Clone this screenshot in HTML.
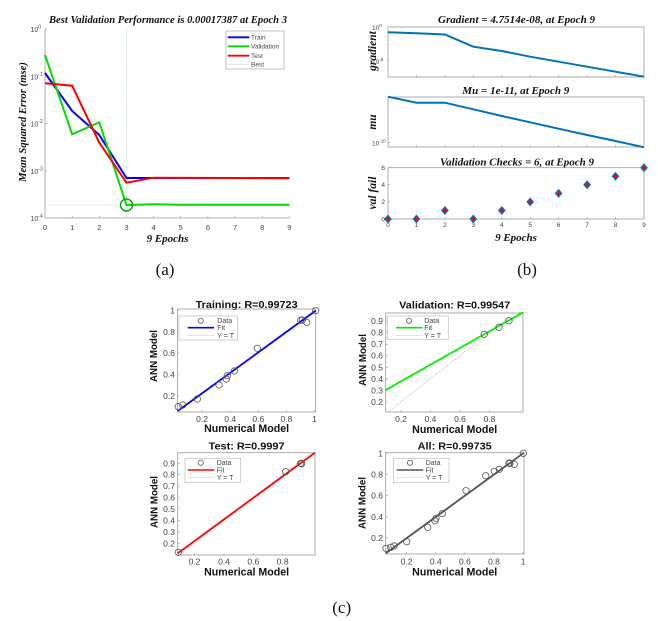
<!DOCTYPE html>
<html><head><meta charset="utf-8"><style>
html,body{margin:0;padding:0;background:#fff;}
svg{display:block;}
.s{font-family:"Liberation Sans",sans-serif;}
.t{font-family:"Liberation Serif",serif;font-weight:bold;font-style:italic;fill:#111;}
.tk{font-family:"Liberation Sans",sans-serif;fill:#444;}
.ct{font-family:"Liberation Sans",sans-serif;font-weight:bold;fill:#111;}
</style></head><body>
<svg width="658" height="621" viewBox="0 0 658 621" xmlns="http://www.w3.org/2000/svg">
<rect width="658" height="621" fill="#fff"/>

<!-- ============ PANEL A ============ -->
<text class="t" x="49" y="23" font-size="11" textLength="238" lengthAdjust="spacingAndGlyphs">Best Validation Performance is 0.00017387 at Epoch 3</text>
<text class="t" transform="translate(26,122) rotate(-90)" font-size="11" text-anchor="middle" textLength="120" lengthAdjust="spacingAndGlyphs">Mean Squared Error  (mse)</text>
<g stroke="#999" stroke-width="0.8">
<line x1="45" y1="29" x2="45" y2="218"/>
<line x1="45" y1="218" x2="289.4" y2="218"/>
</g>
<g stroke="#999" stroke-width="0.6">
<line x1="72.15" y1="218" x2="72.15" y2="216"/><line x1="99.3" y1="218" x2="99.3" y2="216"/><line x1="126.45" y1="218" x2="126.45" y2="216"/><line x1="153.6" y1="218" x2="153.6" y2="216"/><line x1="180.75" y1="218" x2="180.75" y2="216"/><line x1="207.9" y1="218" x2="207.9" y2="216"/><line x1="235.05" y1="218" x2="235.05" y2="216"/><line x1="262.2" y1="218" x2="262.2" y2="216"/><line x1="289.35" y1="218" x2="289.35" y2="216"/>
<line x1="45" y1="29" x2="47" y2="29"/><line x1="45" y1="76.25" x2="47" y2="76.25"/><line x1="45" y1="123.5" x2="47" y2="123.5"/><line x1="45" y1="170.75" x2="47" y2="170.75"/>
</g>
<g class="tk" font-size="7">
<text x="30.5" y="32">10<tspan font-size="5" dy="-3.5">0</tspan></text>
<text x="30.5" y="79.5">10<tspan font-size="5" dy="-3.5">-1</tspan></text>
<text x="30.5" y="126.5">10<tspan font-size="5" dy="-3.5">-2</tspan></text>
<text x="30.5" y="174">10<tspan font-size="5" dy="-3.5">-3</tspan></text>
<text x="30.5" y="221">10<tspan font-size="5" dy="-3.5">-4</tspan></text>
</g>
<g class="tk" font-size="7.5" text-anchor="middle">
<text x="45" y="230">0</text><text x="72.15" y="230">1</text><text x="99.3" y="230">2</text><text x="126.45" y="230">3</text><text x="153.6" y="230">4</text><text x="180.75" y="230">5</text><text x="207.9" y="230">6</text><text x="235.05" y="230">7</text><text x="262.2" y="230">8</text><text x="289.35" y="230">9</text>
</g>
<text class="t" x="167.5" y="242" font-size="11" text-anchor="middle">9 Epochs</text>
<!-- best lines -->
<line x1="126.45" y1="29" x2="126.45" y2="218" stroke="#bfe0bf" stroke-width="0.8" stroke-dasharray="1.5,1"/>
<line x1="45" y1="205" x2="126.45" y2="205" stroke="#bfe0bf" stroke-width="0.8" stroke-dasharray="1.5,1"/>
<polyline fill="none" stroke="#0000ff" stroke-width="2" points="45,73 72.15,111 99.3,135 126.45,178 153.6,178 289.35,178"/>
<polyline fill="none" stroke="#00dd00" stroke-width="2" points="45,55 72.15,134.3 99.3,122.3 126.45,205 153.6,204.3 180.75,204.7 289.35,204.7"/>
<polyline fill="none" stroke="#ff0000" stroke-width="2" points="45,83.3 72.15,85.7 99.3,142.7 126.45,182.7 153.6,177.7 289.35,178.3"/>
<circle cx="126.5" cy="205" r="6" fill="none" stroke="#00a000" stroke-width="1.4"/>
<!-- legend a -->
<rect x="226" y="31" width="58" height="38" fill="#fff" stroke="#aaa" stroke-width="0.7"/>
<line x1="227.7" y1="37.3" x2="249.3" y2="37.3" stroke="#0000ff" stroke-width="1.8"/>
<line x1="227.7" y1="46.3" x2="249.3" y2="46.3" stroke="#00dd00" stroke-width="1.8"/>
<line x1="227.7" y1="55.7" x2="249.3" y2="55.7" stroke="#ff0000" stroke-width="1.8"/>
<line x1="227.7" y1="64.3" x2="249.3" y2="64.3" stroke="#cfe6cf" stroke-width="0.8"/>
<g class="tk" font-size="6.5">
<text x="251" y="39.6">Train</text><text x="251" y="48.6">Validation</text><text x="251" y="58">Test</text><text x="251" y="66.6">Best</text>
</g>
<text x="165" y="275" font-family="Liberation Serif,serif" font-size="17" text-anchor="middle" fill="#111">(a)</text>

<!-- ============ PANEL B ============ -->
<text class="t" x="438" y="23" font-size="11" textLength="157" lengthAdjust="spacingAndGlyphs">Gradient = 4.7514e-08, at Epoch 9</text>
<text class="t" x="462.3" y="94" font-size="11" textLength="107" lengthAdjust="spacingAndGlyphs">Mu = 1e-11, at Epoch 9</text>
<text class="t" x="440" y="165.5" font-size="11" textLength="154" lengthAdjust="spacingAndGlyphs">Validation Checks = 6, at Epoch 9</text>
<text class="t" transform="translate(376,51) rotate(-90)" font-size="11.5" text-anchor="middle">gradient</text>
<text class="t" transform="translate(376,122) rotate(-90)" font-size="11.5" text-anchor="middle">mu</text>
<text class="t" transform="translate(376,193) rotate(-90)" font-size="11.5" text-anchor="middle">val fail</text>
<g fill="none" stroke="#999" stroke-width="0.8">
<rect x="388" y="27" width="256" height="50"/>
<rect x="388" y="97" width="256" height="50"/>
<rect x="388" y="167.7" width="256" height="51.3"/>
</g>
<g stroke="#999" stroke-width="0.6">
<path d="M416.4,77v-2M444.9,77v-2M473.3,77v-2M501.8,77v-2M530.2,77v-2M558.6,77v-2M587.1,77v-2M615.5,77v-2"/>
<path d="M416.4,147v-2M444.9,147v-2M473.3,147v-2M501.8,147v-2M530.2,147v-2M558.6,147v-2M587.1,147v-2M615.5,147v-2"/>
<path d="M416.4,219v-2M444.9,219v-2M473.3,219v-2M501.8,219v-2M530.2,219v-2M558.6,219v-2M587.1,219v-2M615.5,219v-2"/>
<path d="M388,61h2M388,142.7h2M388,201.9h2M388,184.8h2"/>
</g>
<g class="tk" font-size="6.5">
<text x="372" y="30">10<tspan font-size="4.5" dy="-3">0</tspan></text>
<text x="372" y="64">10<tspan font-size="4.5" dy="-3">-5</tspan></text>
<text x="372" y="145.5">10<tspan font-size="4.5" dy="-3">-10</tspan></text>
</g>
<g class="tk" font-size="6.5" text-anchor="end">
<text x="385" y="221.3">0</text><text x="385" y="204.2">2</text><text x="385" y="187.1">4</text><text x="385" y="170">6</text>
</g>
<g class="tk" font-size="6.5" text-anchor="middle">
<text x="388" y="227">0</text><text x="416.4" y="227">1</text><text x="444.9" y="227">2</text><text x="473.3" y="227">3</text><text x="501.8" y="227">4</text><text x="530.2" y="227">5</text><text x="558.6" y="227">6</text><text x="587.1" y="227">7</text><text x="615.5" y="227">8</text><text x="644" y="227">9</text>
</g>
<text class="t" x="516" y="241" font-size="11" text-anchor="middle">9 Epochs</text>
<polyline fill="none" stroke="#0072BD" stroke-width="2" points="388,32.3 416.4,33.3 444.9,34.5 473.3,46.7 501.8,51 530.2,56.7 558.6,61.7 587.1,66.7 615.5,71.7 644,76.7"/>
<polyline fill="none" stroke="#0072BD" stroke-width="2" points="388,96.7 416.4,102.7 444.9,102.7 473.3,109.3 501.8,116 530.2,122.3 558.6,128.7 587.1,135 615.5,141 644,147.3"/>
<g fill="#ff0000" stroke="#0072BD" stroke-width="1.3">
<path d="M388,215.5l3,3.5l-3,3.5l-3,-3.5z"/>
<path d="M416.4,215.5l3,3.5l-3,3.5l-3,-3.5z"/>
<path d="M444.9,206.95l3,3.5l-3,3.5l-3,-3.5z"/>
<path d="M473.3,215.5l3,3.5l-3,3.5l-3,-3.5z"/>
<path d="M501.8,206.95l3,3.5l-3,3.5l-3,-3.5z"/>
<path d="M530.2,198.4l3,3.5l-3,3.5l-3,-3.5z"/>
<path d="M558.6,189.85l3,3.5l-3,3.5l-3,-3.5z"/>
<path d="M587.1,181.3l3,3.5l-3,3.5l-3,-3.5z"/>
<path d="M615.5,172.75l3,3.5l-3,3.5l-3,-3.5z"/>
<path d="M644,164.2l3,3.5l-3,3.5l-3,-3.5z"/>
</g>
<text x="527" y="275" font-family="Liberation Serif,serif" font-size="17" text-anchor="middle" fill="#111">(b)</text>

<!-- ============ PANEL C : Training ============ -->
<text class="ct" x="246.6" y="308" font-size="10.5" text-anchor="middle" textLength="102" lengthAdjust="spacingAndGlyphs">Training: R=0.99723</text>
<text class="ct" x="246.6" y="432" font-size="10.6" text-anchor="middle" textLength="85" lengthAdjust="spacingAndGlyphs">Numerical Model</text>
<text class="ct" transform="translate(157,356) rotate(-90)" font-size="10.5" text-anchor="middle" textLength="52" lengthAdjust="spacingAndGlyphs">ANN Model</text>
<rect x="177.5" y="309" width="138.2" height="103" fill="none" stroke="#999" stroke-width="0.8"/>
<g stroke="#999" stroke-width="0.6">
<path d="M177.5,395.8h2M177.5,374.5h2M177.5,353.1h2M177.5,331.8h2M177.5,310.5h2"/>
<path d="M202.1,412v-2M230.2,412v-2M258.3,412v-2M286.4,412v-2M314.5,412v-2"/>
</g>
<g class="tk" font-size="8.5" text-anchor="end">
<text x="175" y="398.8">0.2</text><text x="175" y="377.5">0.4</text><text x="175" y="356.1">0.6</text><text x="175" y="334.8">0.8</text><text x="175" y="313.5">1</text>
</g>
<g class="tk" font-size="8.5" text-anchor="middle">
<text x="202.1" y="422">0.2</text><text x="230.2" y="422">0.4</text><text x="258.3" y="422">0.6</text><text x="286.4" y="422">0.8</text><text x="314.5" y="422">1</text>
</g>
<line x1="177.5" y1="412" x2="315.7" y2="309" stroke="#bbb" stroke-width="0.7" stroke-dasharray="1.5,1"/>
<line x1="177.7" y1="411" x2="315.7" y2="310.7" stroke="#0000ff" stroke-width="1.8"/>
<g fill="none" stroke="#555" stroke-width="0.8">
<circle cx="178.3" cy="406.7" r="3.2"/><circle cx="182.7" cy="405" r="3.2"/><circle cx="197.3" cy="399" r="3.2"/><circle cx="219" cy="385" r="3.2"/><circle cx="226.3" cy="379" r="3.2"/><circle cx="227.3" cy="375.7" r="3.2"/><circle cx="234.3" cy="371" r="3.2"/><circle cx="257.3" cy="348.3" r="3.2"/><circle cx="300.7" cy="320.3" r="3.2"/><circle cx="302.3" cy="320" r="3.2"/><circle cx="306.7" cy="322.3" r="3.2"/><circle cx="315.7" cy="310.7" r="3.2"/>
</g>
<rect x="179" y="316" width="58.7" height="24" fill="#fff" stroke="#bbb" stroke-width="0.7"/>
<circle cx="200.7" cy="320.7" r="2.6" fill="none" stroke="#555" stroke-width="0.8"/>
<line x1="187.7" y1="327.7" x2="214" y2="327.7" stroke="#0000ff" stroke-width="1.6"/>
<line x1="187.7" y1="335.3" x2="214" y2="335.3" stroke="#bbb" stroke-width="0.7" stroke-dasharray="1.5,1"/>
<g class="tk" font-size="7">
<text x="217.3" y="323.2">Data</text><text x="217.3" y="330.2">Fit</text><text x="217.3" y="337.8">Y = T</text>
</g>

<!-- ============ PANEL C : Validation ============ -->
<text class="ct" x="454.7" y="308.5" font-size="10.5" text-anchor="middle" textLength="111" lengthAdjust="spacingAndGlyphs">Validation: R=0.99547</text>
<text class="ct" x="454.7" y="433" font-size="10.6" text-anchor="middle" textLength="85" lengthAdjust="spacingAndGlyphs">Numerical Model</text>
<text class="ct" transform="translate(366,360) rotate(-90)" font-size="10.5" text-anchor="middle" textLength="52" lengthAdjust="spacingAndGlyphs">ANN Model</text>
<rect x="385.7" y="313" width="137.3" height="99" fill="none" stroke="#999" stroke-width="0.8"/>
<g stroke="#999" stroke-width="0.6">
<path d="M385.7,402h2M385.7,390.4h2M385.7,378.9h2M385.7,367.3h2M385.7,355.7h2M385.7,344.2h2M385.7,332.6h2M385.7,321h2"/>
<path d="M401,412v-2M430.5,412v-2M460,412v-2M489.5,412v-2"/>
</g>
<g class="tk" font-size="8.5" text-anchor="end">
<text x="383" y="405">0.2</text><text x="383" y="393.4">0.3</text><text x="383" y="381.9">0.4</text><text x="383" y="370.3">0.5</text><text x="383" y="358.7">0.6</text><text x="383" y="347.2">0.7</text><text x="383" y="335.6">0.8</text><text x="383" y="324">0.9</text>
</g>
<g class="tk" font-size="8.5" text-anchor="middle">
<text x="401" y="422">0.2</text><text x="430.5" y="422">0.4</text><text x="460" y="422">0.6</text><text x="489.5" y="422">0.8</text>
</g>
<line x1="388" y1="412" x2="514" y2="313" stroke="#bbb" stroke-width="0.7" stroke-dasharray="1.5,1"/>
<line x1="385.7" y1="390" x2="523" y2="312.3" stroke="#00ee00" stroke-width="1.8"/>
<g fill="none" stroke="#555" stroke-width="0.8">
<circle cx="484.3" cy="334.3" r="3.2"/><circle cx="499" cy="327.3" r="3.2"/><circle cx="509" cy="320.7" r="3.2"/>
</g>
<rect x="387.3" y="316" width="61" height="23.3" fill="#fff" stroke="#bbb" stroke-width="0.7"/>
<circle cx="409" cy="320.7" r="2.6" fill="none" stroke="#555" stroke-width="0.8"/>
<line x1="396" y1="327.7" x2="422.7" y2="327.7" stroke="#00ee00" stroke-width="1.6"/>
<line x1="396" y1="335.3" x2="422.7" y2="335.3" stroke="#bbb" stroke-width="0.7" stroke-dasharray="1.5,1"/>
<g class="tk" font-size="7">
<text x="424.3" y="323.2">Data</text><text x="424.3" y="330.2">Fit</text><text x="424.3" y="337.8">Y = T</text>
</g>

<!-- ============ PANEL C : Test ============ -->
<text class="ct" x="246.6" y="449.5" font-size="10.5" text-anchor="middle" textLength="76" lengthAdjust="spacingAndGlyphs">Test: R=0.9997</text>
<text class="ct" x="246.6" y="575.5" font-size="10.6" text-anchor="middle" textLength="85" lengthAdjust="spacingAndGlyphs">Numerical Model</text>
<text class="ct" transform="translate(157.3,502) rotate(-90)" font-size="10.5" text-anchor="middle" textLength="52" lengthAdjust="spacingAndGlyphs">ANN Model</text>
<rect x="177.7" y="452.7" width="137.3" height="102.3" fill="none" stroke="#999" stroke-width="0.8"/>
<g stroke="#999" stroke-width="0.6">
<path d="M177.7,543.3h2M177.7,531.9h2M177.7,520.4h2M177.7,509h2M177.7,497.6h2M177.7,486.2h2M177.7,474.7h2M177.7,463.3h2"/>
<path d="M194.5,555v-2M224,555v-2M253.3,555v-2M282.7,555v-2"/>
</g>
<g class="tk" font-size="8.5" text-anchor="end">
<text x="175" y="546.3">0.2</text><text x="175" y="534.9">0.3</text><text x="175" y="523.4">0.4</text><text x="175" y="512">0.5</text><text x="175" y="500.6">0.6</text><text x="175" y="489.2">0.7</text><text x="175" y="477.7">0.8</text><text x="175" y="466.3">0.9</text>
</g>
<g class="tk" font-size="8.5" text-anchor="middle">
<text x="194.5" y="564.5">0.2</text><text x="224" y="564.5">0.4</text><text x="253.3" y="564.5">0.6</text><text x="282.7" y="564.5">0.8</text>
</g>
<line x1="179.3" y1="555" x2="310.9" y2="452.7" stroke="#bbb" stroke-width="0.7" stroke-dasharray="1.5,1"/>
<line x1="177.7" y1="553.3" x2="315" y2="452.7" stroke="#ff0000" stroke-width="1.8"/>
<g fill="none" stroke="#555" stroke-width="0.8">
<circle cx="178.3" cy="552.3" r="3.2"/><circle cx="285.7" cy="471.7" r="3.2"/><circle cx="300.7" cy="463.3" r="3.2"/><circle cx="301.6" cy="463.8" r="3.2"/>
</g>
<rect x="185" y="458.3" width="55.7" height="24" fill="#fff" stroke="#bbb" stroke-width="0.7"/>
<circle cx="200.7" cy="462.7" r="2.6" fill="none" stroke="#555" stroke-width="0.8"/>
<line x1="187.7" y1="470" x2="214" y2="470" stroke="#ff0000" stroke-width="1.6"/>
<line x1="187.7" y1="477.7" x2="214" y2="477.7" stroke="#bbb" stroke-width="0.7" stroke-dasharray="1.5,1"/>
<g class="tk" font-size="7">
<text x="216.7" y="465.2">Data</text><text x="216.7" y="472.5">Fit</text><text x="216.7" y="480.2">Y = T</text>
</g>

<!-- ============ PANEL C : All ============ -->
<text class="ct" x="454.7" y="449.5" font-size="10.5" text-anchor="middle" textLength="74" lengthAdjust="spacingAndGlyphs">All: R=0.99735</text>
<text class="ct" x="454.7" y="575.5" font-size="10.6" text-anchor="middle" textLength="85" lengthAdjust="spacingAndGlyphs">Numerical Model</text>
<text class="ct" transform="translate(365.5,503) rotate(-90)" font-size="10.5" text-anchor="middle" textLength="52" lengthAdjust="spacingAndGlyphs">ANN Model</text>
<rect x="385.7" y="452.7" width="138.3" height="101.3" fill="none" stroke="#999" stroke-width="0.8"/>
<g stroke="#999" stroke-width="0.6">
<path d="M385.7,538.1h2M385.7,516.9h2M385.7,495.7h2M385.7,474.5h2M385.7,453.3h2"/>
<path d="M406.7,554v-2M435.8,554v-2M464.9,554v-2M494,554v-2M523.1,554v-2"/>
</g>
<g class="tk" font-size="8.5" text-anchor="end">
<text x="383" y="541.1">0.2</text><text x="383" y="519.9">0.4</text><text x="383" y="498.7">0.6</text><text x="383" y="477.5">0.8</text><text x="383" y="456.3">1</text>
</g>
<g class="tk" font-size="8.5" text-anchor="middle">
<text x="406.7" y="564.5">0.2</text><text x="435.8" y="564.5">0.4</text><text x="464.9" y="564.5">0.6</text><text x="494" y="564.5">0.8</text><text x="523.1" y="564.5">1</text>
</g>
<line x1="386.7" y1="554" x2="523.5" y2="453" stroke="#bbb" stroke-width="0.7" stroke-dasharray="1.5,1"/>
<line x1="385.7" y1="553.3" x2="524" y2="452.7" stroke="#555" stroke-width="1.8"/>
<g fill="none" stroke="#555" stroke-width="0.8">
<circle cx="386" cy="548.3" r="3.2"/><circle cx="390.7" cy="547.3" r="3.2"/><circle cx="394" cy="546" r="3.2"/><circle cx="406.7" cy="541.7" r="3.2"/><circle cx="427.7" cy="527.3" r="3.2"/><circle cx="435" cy="520.7" r="3.2"/><circle cx="436" cy="518.3" r="3.2"/><circle cx="442.3" cy="513.7" r="3.2"/><circle cx="466" cy="490.7" r="3.2"/><circle cx="485.7" cy="475.7" r="3.2"/><circle cx="494.3" cy="471.3" r="3.2"/><circle cx="499.3" cy="469.3" r="3.2"/><circle cx="509" cy="463" r="3.2"/><circle cx="509.9" cy="463.5" r="3.2"/><circle cx="514.3" cy="464.3" r="3.2"/><circle cx="523.3" cy="453.3" r="3.2"/>
</g>
<rect x="393.3" y="458.3" width="55.7" height="24" fill="#fff" stroke="#bbb" stroke-width="0.7"/>
<circle cx="410" cy="462.7" r="2.6" fill="none" stroke="#555" stroke-width="0.8"/>
<line x1="396.7" y1="470" x2="423.3" y2="470" stroke="#555" stroke-width="1.6"/>
<line x1="396.7" y1="477.7" x2="423.3" y2="477.7" stroke="#bbb" stroke-width="0.7" stroke-dasharray="1.5,1"/>
<g class="tk" font-size="7">
<text x="425.7" y="465.2">Data</text><text x="425.7" y="472.5">Fit</text><text x="425.7" y="480.2">Y = T</text>
</g>

<text x="341.7" y="613" font-family="Liberation Serif,serif" font-size="17" text-anchor="middle" fill="#111">(c)</text>
</svg>
</body></html>
